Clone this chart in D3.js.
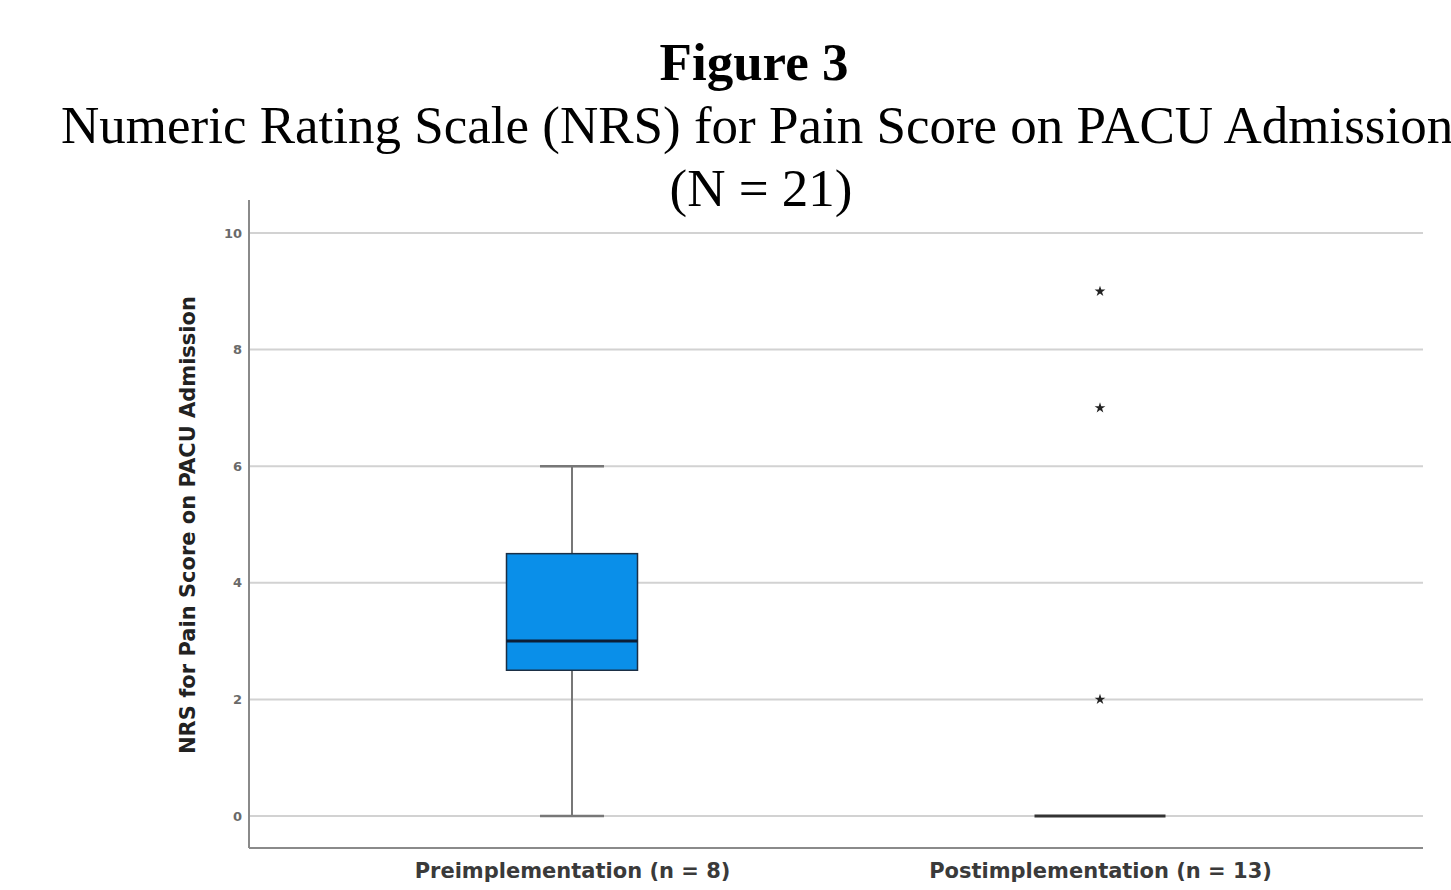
<!DOCTYPE html>
<html>
<head>
<meta charset="utf-8">
<script src="https://cdn.jsdelivr.net/npm/d3@7"></script>
<style>
  body { margin: 0; background: #fff; overflow: hidden; }
  svg { display: block; }
</style>
</head>
<body>
<script>
'use strict';

// data
const groups = ['Preimplementation (n = 8)', 'Postimplementation (n = 13)'];
const q1s = [2.5, 0];
const medians = [3, 0];
const q3s = [4.5, 0];
const whiskerLow = [0, 0];
const whiskerHigh = [6, 0];
const outliers = [[], [9, 7, 2]];
const yTicks = [0, 2, 4, 6, 8, 10];

const width = 1451, height = 890;
const svg = d3.select('body').append('svg')
    .attr('width', width)
    .attr('height', height);

const serif = '"Liberation Serif", "Times New Roman", serif';
const sans = '"DejaVu Sans", Verdana, sans-serif';

// titles
svg.append('text')
    .attr('x', 754).attr('y', 80)
    .attr('text-anchor', 'middle')
    .style('font-family', serif)
    .style('font-weight', 'bold')
    .style('font-size', '53px')
    .text('Figure 3');
svg.append('text')
    .attr('x', 61).attr('y', 143)
    .style('font-family', serif)
    .style('font-size', '53px')
    .text('Numeric Rating Scale (NRS) for Pain Score on PACU Admission');
svg.append('text')
    .attr('x', 761).attr('y', 206)
    .attr('text-anchor', 'middle')
    .style('font-family', serif)
    .style('font-size', '53px')
    .text('(N = 21)');

const plot = {left: 249, right: 1423, top: 200, bottom: 848};

const y = d3.scaleLinear()
    .domain([0, 10])
    .range([816, 233]);

const x = d3.scalePoint()
    .domain(groups)
    .range([572, 1100]);

// gridlines
svg.append('g')
    .selectAll('line')
    .data(yTicks)
    .enter()
    .append('line')
        .attr('x1', plot.left)
        .attr('x2', plot.right)
        .attr('y1', d => y(d))
        .attr('y2', d => y(d))
        .style('stroke', '#d2d2d2')
        .style('stroke-width', 2);

// y axis
const yAxis = svg.append('g')
    .attr('transform', `translate(${plot.left},0)`)
    .call(d3.axisLeft(y).tickValues(yTicks).tickSize(0).tickPadding(7));
yAxis.select('.domain').remove();
yAxis.selectAll('text')
    .style('font-family', sans)
    .style('font-weight', 'bold')
    .style('font-size', '13px')
    .style('fill', '#6a6a6a');

svg.append('line')
    .attr('x1', plot.left).attr('x2', plot.left)
    .attr('y1', plot.top).attr('y2', plot.bottom)
    .style('stroke', '#8a8a8a')
    .style('stroke-width', 2);
svg.append('line')
    .attr('x1', plot.left).attr('x2', plot.right)
    .attr('y1', plot.bottom).attr('y2', plot.bottom)
    .style('stroke', '#8a8a8a')
    .style('stroke-width', 2);

// y label
svg.append('text')
    .attr('transform', 'translate(195,525) rotate(-90)')
    .attr('text-anchor', 'middle')
    .style('font-family', sans)
    .style('font-weight', 'bold')
    .style('font-size', '21px')
    .style('fill', '#222')
    .text('NRS for Pain Score on PACU Admission');

// x axis labels
const xAxis = svg.append('g')
    .attr('transform', `translate(0,${plot.bottom})`)
    .call(d3.axisBottom(x).tickSize(0).tickPadding(15));
xAxis.select('.domain').remove();
xAxis.selectAll('text')
    .style('font-family', sans)
    .style('font-weight', 'bold')
    .style('font-size', '21px')
    .style('fill', '#3a3a3a');

const boxW = 131, capW = 64;
const boxes = groups.map((g, i) => ({
    g, q1: q1s[i], med: medians[i], q3: q3s[i],
    lo: whiskerLow[i], hi: whiskerHigh[i], out: outliers[i]
}));

const bg = svg.selectAll('.box')
    .data(boxes)
    .enter()
    .append('g')
    .attr('class', 'box');

// whiskers
bg.filter(d => d.hi > d.lo).each(function(d) {
    const g = d3.select(this), cx = x(d.g);
    g.append('line')
        .attr('x1', cx).attr('x2', cx)
        .attr('y1', y(d.hi)).attr('y2', y(d.lo))
        .style('stroke', '#777').style('stroke-width', 2);
    [d.lo, d.hi].forEach(v => {
        g.append('line')
            .attr('x1', cx - capW / 2).attr('x2', cx + capW / 2)
            .attr('y1', y(v)).attr('y2', y(v))
            .style('stroke', '#777').style('stroke-width', 2.5);
    });
});

// boxes
bg.filter(d => d.q3 > d.q1)
    .append('rect')
        .attr('x', d => x(d.g) - boxW / 2)
        .attr('y', d => y(d.q3))
        .attr('width', boxW)
        .attr('height', d => y(d.q1) - y(d.q3))
        .style('fill', '#0a8fe9')
        .style('stroke', '#1b2f45')
        .style('stroke-width', 1.5);

// medians
bg.append('line')
    .attr('x1', d => x(d.g) - boxW / 2)
    .attr('x2', d => x(d.g) + boxW / 2)
    .attr('y1', d => y(d.med))
    .attr('y2', d => y(d.med))
    .style('stroke', d => d.q3 > d.q1 ? '#0c1e36' : '#333')
    .style('stroke-width', 3);

// outliers as stars
const star = d3.symbol().type(d3.symbolStar).size(36);
bg.selectAll('.out')
    .data(d => d.out.map(v => ({g: d.g, v})))
    .enter()
    .append('path')
        .attr('d', star)
        .attr('transform', d => `translate(${x(d.g)},${y(d.v)})`)
        .style('fill', '#222');
</script>
</body>
</html>
